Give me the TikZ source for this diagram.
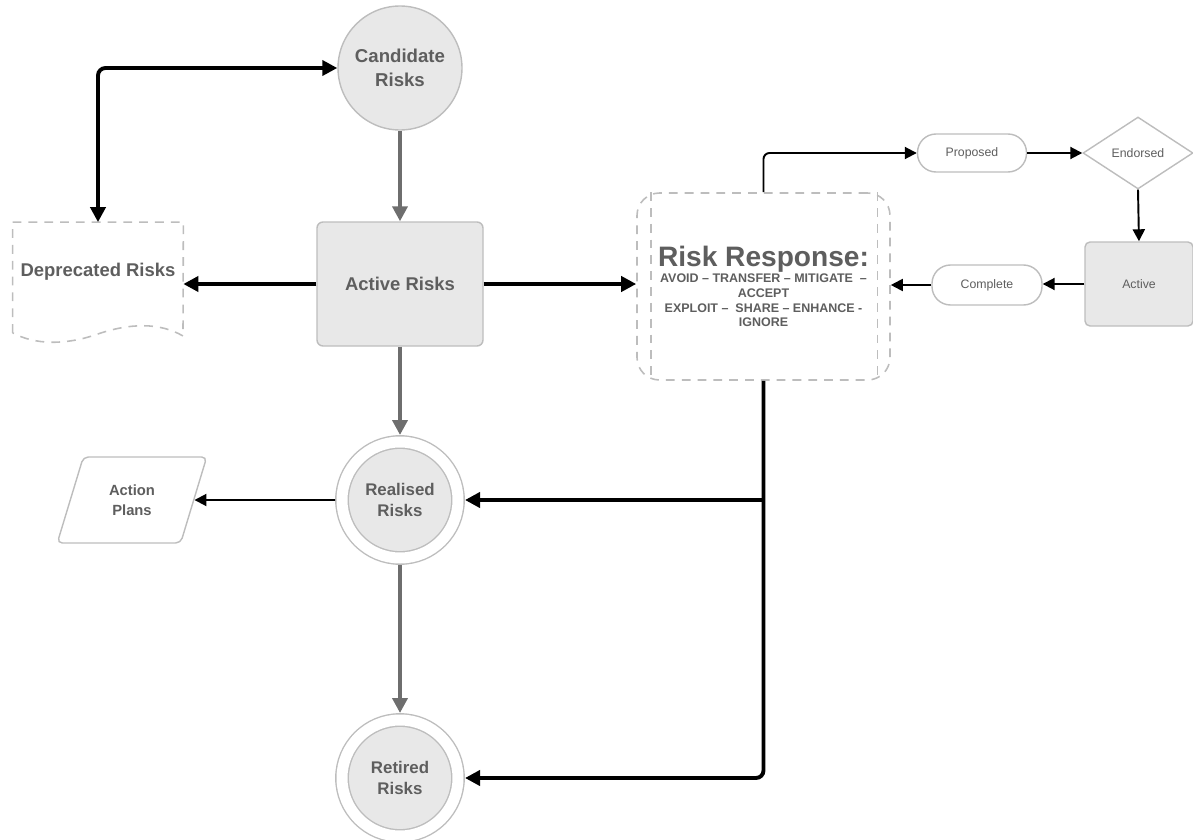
\documentclass[tikz,border=0pt]{standalone}
\usepackage{fontspec}
\setmainfont{Liberation Sans}
\usetikzlibrary{arrows.meta,shapes.geometric}

\definecolor{boxfill}{HTML}{E8E8E8}
\definecolor{boxline}{HTML}{BDBDBD}
\definecolor{txtgray}{HTML}{5E5E5E}
\definecolor{flowgray}{HTML}{6E6E6E}

\begin{document}
\begin{tikzpicture}[
		every node/.style={text=txtgray},
		state/.style={shape=circle,draw=boxline,fill=boxfill,line width=0.8pt,align=center,font=\fontsize{10.6}{13.5}\selectfont\bfseries},
		final/.style={state,double=white,double distance=0.22cm,minimum size=2.32cm,outer sep=0.14cm,font=\fontsize{9.6}{12}\selectfont\bfseries},
		dashline/.style={draw=boxline,line width=0.9pt,dash pattern=on 5pt off 4pt},
		pill/.style={shape=rectangle,rounded corners=0.37cm,draw=boxline,fill=white,line width=0.8pt,minimum width=2.18cm,minimum height=0.76cm,font=\fontsize{7}{8}\selectfont},
		bigflow/.style={draw=black,line width=2.2pt,rounded corners=0.15cm,-{Triangle[length=0.3cm,width=0.3cm]}},
		smallflow/.style={draw=black,line width=1.1pt,rounded corners=0.12cm,-{Triangle[length=0.24cm,width=0.24cm]}},
		greyflow/.style={draw=flowgray,line width=2.2pt,-{Triangle[length=0.3cm,width=0.3cm]}}
	]
		\useasboundingbox (0,0) rectangle (23.86,-16.8);

		% risk states
		\node [state,minimum size=2.48cm] (cand) at (8,-1.36) {Candidate\\Risks};
		\node [shape=rectangle,rounded corners=0.12cm,draw=boxline,fill=boxfill,line width=0.8pt,minimum width=3.32cm,minimum height=2.48cm,font=\fontsize{10.5}{12}\selectfont\bfseries] (act) at (8,-5.68) {Active Risks};
		\node [final] (real) at (8,-10) {Realised\\Risks};
		\node [final] (ret) at (8,-15.56) {Retired\\Risks};

		% deprecated risks (document shape)
		\node [shape=rectangle,minimum width=3.4cm,minimum height=2.2cm,label={[yshift=0.12cm,font=\fontsize{10.5}{12}\selectfont\bfseries,text=txtgray]center:Deprecated Risks}] (dep) at (1.96,-5.55) {};
		\draw [dashline] (dep.south west) -- (dep.north west) -- (dep.north east) -- (3.66,-6.72) .. controls (3.2,-6.45) and (2.6,-6.45) .. (1.9,-6.7) .. controls (1.3,-6.9) and (0.7,-6.9) .. (dep.south west);

		\node [shape=trapezium,trapezium left angle=70,trapezium right angle=110,trapezium stretches=true,rounded corners=0.1cm,draw=boxline,fill=white,line width=0.8pt,minimum width=3cm,minimum height=1.72cm,align=center,font=\fontsize{8.4}{11.3}\selectfont\bfseries] (plans) at (2.64,-10) {Action\\Plans};

		% risk response
		\node [shape=rectangle,rounded corners=0.45cm,dashline,fill=white,minimum width=5.06cm,minimum height=3.74cm,align=center,font=\fontsize{7.1}{8.3}\selectfont\bfseries] (resp) at (15.27,-5.73) {\fontsize{16}{18}\selectfont Risk Response:\\[1pt]\fontsize{7.1}{8.3}\selectfont AVOID -- TRANSFER -- MITIGATE \ --\\ACCEPT\\EXPLOIT -- \ SHARE -- ENHANCE -\\IGNORE};
		\draw [dashline] ([xshift=0.3cm]resp.north west) -- ([xshift=0.3cm]resp.south west);
		\draw [dashline] ([xshift=-0.27cm]resp.north east) -- ([xshift=-0.27cm]resp.south east);

		% response cycle
		\node [pill] (prop) at (19.44,-3.06) {Proposed};
		\node [shape=diamond,draw=boxline,fill=white,line width=0.8pt,inner sep=0pt,minimum width=2.2cm,minimum height=1.44cm,font=\fontsize{7}{8}\selectfont] (endo) at (22.76,-3.06) {Endorsed};
		\node [shape=rectangle,rounded corners=0.1cm,draw=boxline,fill=boxfill,line width=0.8pt,minimum width=2.16cm,minimum height=1.68cm,font=\fontsize{7}{8}\selectfont] (act2) at (22.78,-5.68) {Active};
		\node [pill,minimum width=2.2cm,minimum height=0.8cm] (comp) at (19.74,-5.7) {Complete};

		% connectors
		\draw [greyflow] (cand) -- (act);
		\draw [greyflow] (act) -- (real);
		\draw [greyflow] (real) -- (ret);
		\draw [bigflow,{Triangle[length=0.3cm,width=0.3cm]}-{Triangle[length=0.3cm,width=0.3cm]}] (dep.north) |- (cand.west);
		\draw [bigflow] (act.west) -- (act.west -| dep.east);
		\draw [bigflow] (act.east) -- (act.east -| resp.west);
		\draw [smallflow] (real.west) -- (plans.east);
		\draw [smallflow] (resp.north) |- (prop.west);
		\draw [smallflow] (prop.east) -- (endo.west);
		\draw [smallflow] (endo.south) -- (act2.north);
		\draw [smallflow] (act2.west) -- (act2.west -| comp.east);
		\draw [smallflow] (comp.west) -- (comp.west -| resp.east);
		\draw [bigflow] (resp.south) |- (ret.east);
		\draw [bigflow] (resp.south |- real.east) -- (real.east);
	\end{tikzpicture}
\end{document}
